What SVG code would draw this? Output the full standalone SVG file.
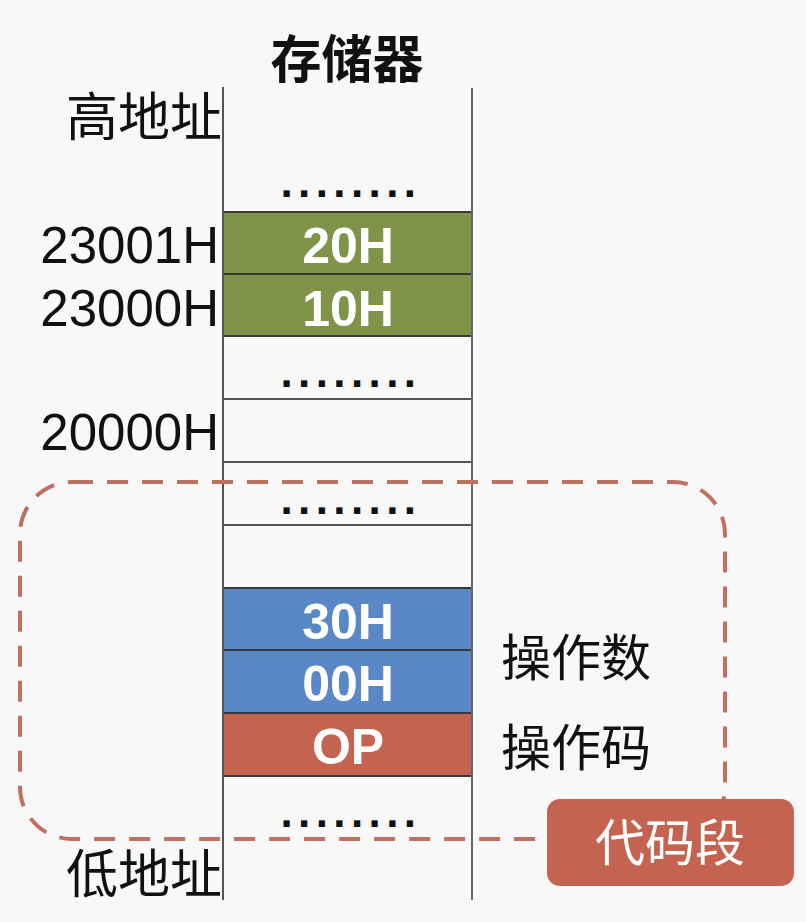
<svg xmlns="http://www.w3.org/2000/svg" width="806" height="922" viewBox="0 0 806 922">
<style>
.lbl{font-family:"Liberation Sans",Arial,sans-serif;font-size:51px;fill:#111;text-anchor:end}
.cjk{font-family:"Noto Sans CJK SC","Liberation Sans",sans-serif;font-size:50px;fill:#111}
.cell{font-family:"Liberation Sans",Arial,sans-serif;font-weight:bold;font-size:50px;fill:#fff;text-anchor:middle}
.dots{font-family:"Liberation Sans",Arial,sans-serif;font-weight:bold;font-size:44px;fill:#111;text-anchor:middle;letter-spacing:5.4px}
.row{stroke:#3a3a3a;stroke-width:2}
.hl{stroke:#555;stroke-width:2}
</style>
<rect x="0" y="0" width="806" height="922" fill="#f8f8f8"/>
<g id="cells">
<rect x="223" y="212" width="249" height="62" fill="#7f9448" class="row"/>
<rect x="223" y="274" width="249" height="62" fill="#7f9448" class="row"/>
<rect x="223" y="588" width="249" height="62" fill="#5a87c6" class="row"/>
<rect x="223" y="650" width="249" height="63" fill="#5a87c6" class="row"/>
<rect x="223" y="713" width="249" height="63" fill="#c4634f" class="row"/>
<line x1="223" y1="399" x2="472" y2="399" class="hl"/>
<line x1="223" y1="462" x2="472" y2="462" class="hl"/>
<line x1="223" y1="525" x2="472" y2="525" class="hl"/>
</g>
<g id="connectors">
<line x1="223" y1="87" x2="223" y2="900" stroke="#555" stroke-width="2"/>
<line x1="472" y1="88" x2="472" y2="900" stroke="#666" stroke-width="2"/>
</g>
<g id="title"><text x="347" y="78" text-anchor="middle" class="cjk" font-weight="bold" style="font-size:51px">存储器</text></g>
<g id="high"><text x="222" y="136" text-anchor="end" class="cjk" style="font-size:52px">高地址</text></g>
<g id="low"><text x="222" y="893" text-anchor="end" class="cjk" style="font-size:52px">低地址</text></g>
<g id="addr23001"><text x="219" y="263" class="lbl">23001H</text></g>
<g id="addr23000"><text x="219" y="326" class="lbl">23000H</text></g>
<g id="addr20000"><text x="219" y="450" class="lbl">20000H</text></g>
<g id="v20"><text x="348" y="263" class="cell">20H</text></g>
<g id="v10"><text x="348" y="326" class="cell">10H</text></g>
<g id="v30"><text x="348" y="639" class="cell">30H</text></g>
<g id="v00"><text x="348" y="701" class="cell">00H</text></g>
<g id="op"><text x="348" y="764" class="cell">OP</text></g>
<g id="dots1"><text x="351" y="197" class="dots">........</text></g>
<g id="dots2"><text x="351" y="387" class="dots">........</text></g>
<g id="dots3"><text x="351" y="514" class="dots">........</text></g>
<g id="dots4"><text x="351" y="827" class="dots">........</text></g>
<g id="operand"><text x="501" y="676" class="cjk">操作数</text></g>
<g id="opcode"><text x="501" y="766" class="cjk">操作码</text></g>
<g id="codeseg">
<rect x="20" y="482" width="705" height="357" rx="52" ry="52" fill="none" stroke="#c0705e" stroke-width="4" stroke-dasharray="21 14"/>
<rect x="547" y="799" width="247" height="87" rx="13" fill="#c4634f"/>
<text x="670" y="861" text-anchor="middle" class="cjk" style="fill:#fff;font-size:50px">代码段</text>
</g>
</svg>
